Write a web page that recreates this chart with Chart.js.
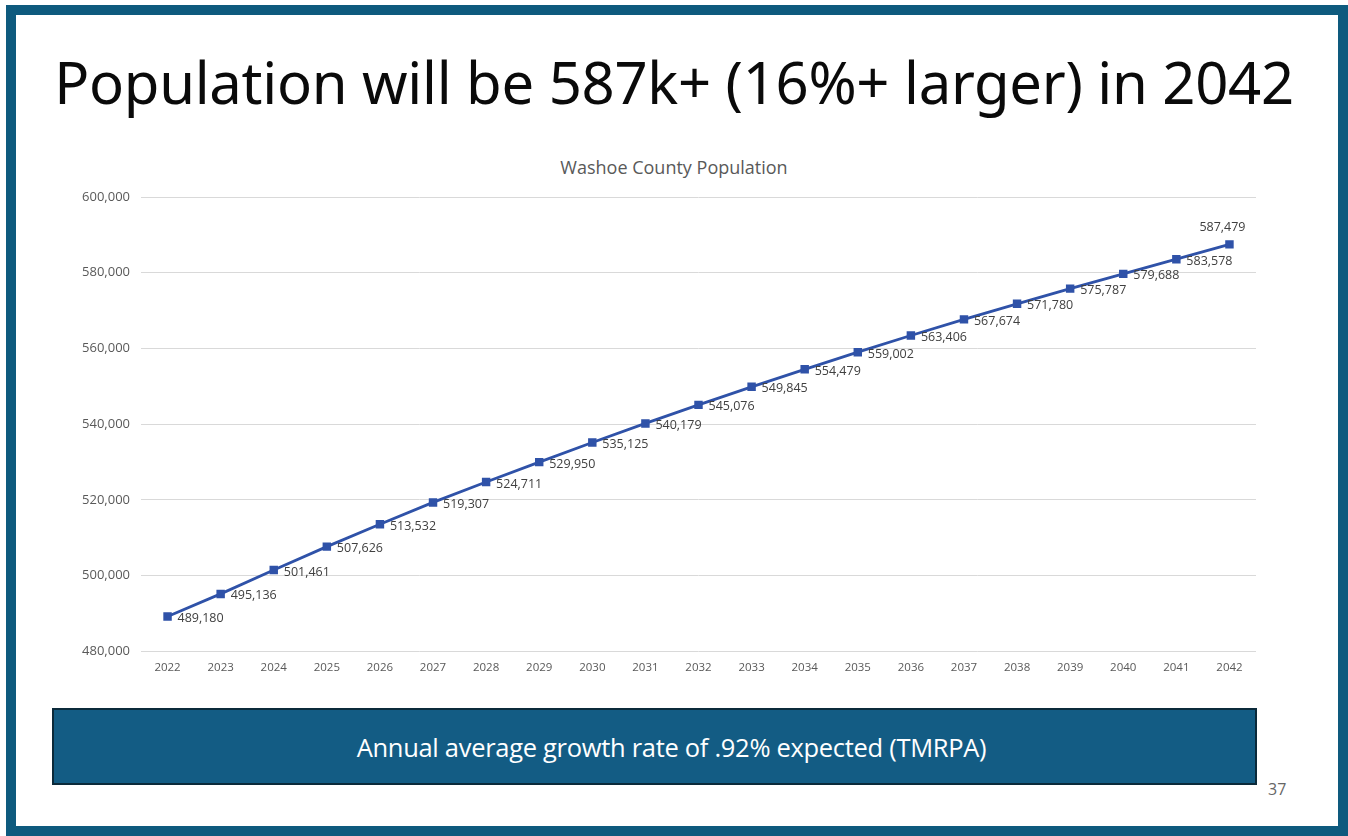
<!DOCTYPE html>
<html>
<head>
<meta charset="utf-8">
<script src="https://cdn.jsdelivr.net/npm/chart.js@4.4.1/dist/chart.umd.min.js"></script>
<style>
  html, body { margin:0; padding:0; background:#fff; }
  #frame { position:absolute; left:6px; top:5px; width:1342px; height:831px; box-sizing:border-box; border:10px solid #0e5a7e; background:#fff; }
  #headline { position:absolute; left:0; width:1348px; top:47px; text-align:center; font-family:"Noto Sans", sans-serif; font-size:58px; line-height:70px; color:#0a0a0a; letter-spacing:-0.3px; }
  #subtitle { position:absolute; left:0; width:1348px; top:156px; text-align:center; font-family:"Open Sans", sans-serif; font-size:18px; line-height:22px; color:#595959; }
  #wrap { position:absolute; left:0; top:150px; width:1348px; height:540px; }
  #note { position:absolute; left:52px; top:708px; width:1205px; height:77px; box-sizing:border-box; padding-left:34px; background:#135c84; border:2px solid #0b2a3a; color:#fff; font-family:"Open Sans",sans-serif; font-size:25.5px; display:flex; align-items:center; justify-content:center; letter-spacing:-0.3px; }
  #page { position:absolute; left:1268px; top:778px; font-family:"Liberation Sans Narrow","Open Sans",sans-serif; font-size:16px; color:#666; }
</style>
</head>
<body>
<div id="frame"></div>
<div id="headline">Population will be 587k+ (16%+ larger) in 2042</div>
<div id="subtitle">Washoe County Population</div>
<div id="wrap"><canvas id="c" width="1348" height="540"></canvas></div>
<div id="note">Annual average growth rate of .92% expected (TMRPA)</div>
<div id="page">37</div>
<script>
const years = ["2022","2023","2024","2025","2026","2027","2028","2029","2030","2031","2032","2033","2034","2035","2036","2037","2038","2039","2040","2041","2042"];
const population = [489180,495136,501461,507626,513532,519307,524711,529950,535125,540179,545076,549845,554479,559002,563406,567674,571780,575787,579688,583578,587479];
const yTicks = [480000,500000,520000,540000,560000,580000,600000];

const labelPlugin = {
  id: 'pointLabels',
  afterDatasetsDraw(chart) {
    const ctx = chart.ctx;
    const meta = chart.getDatasetMeta(0);
    ctx.save();
    ctx.font = '12.5px "Open Sans", sans-serif';
    ctx.fillStyle = '#404040';
    meta.data.forEach((pt, i) => {
      const txt = population[i].toLocaleString('en-US');
      if (i === population.length - 1) {
        ctx.textAlign = 'center';
        ctx.textBaseline = 'middle';
        ctx.fillText(txt, pt.x - 7, pt.y - 17);
      } else {
        ctx.textAlign = 'left';
        ctx.textBaseline = 'middle';
        ctx.fillText(txt, pt.x + 10, pt.y + 2);
      }
    });
    ctx.restore();
  }
};

new Chart(document.getElementById('c'), {
  type: 'line',
  data: {
    labels: years,
    datasets: [{
      data: population,
      borderColor: '#2f52a8',
      backgroundColor: '#2f52a8',
      borderWidth: 2.8,
      pointStyle: 'rect',
      pointRadius: 4,
      pointHoverRadius: 4,
      tension: 0
    }]
  },
  options: {
    responsive: false,
    animation: false,
    layout: { padding: { left: 0, right: 92, top: 47, bottom: 13 } },
    plugins: {
      legend: { display: false },
      tooltip: { enabled: false },
      title: { display: false }
    },
    scales: {
      x: {
        offset: true,
        grid: { display: false },
        border: { display: false },
        ticks: { color: '#595959', font: { family: '"Open Sans", sans-serif', size: 11.5 }, padding: 2, maxRotation: 0, autoSkip: false }
      },
      y: {
        min: 480000,
        max: 600000,
        afterBuildTicks(s) { s.ticks = yTicks.map(v => ({ value: v })); },
        afterFit(s) { s.width = 141; },
        grid: { color: '#d9d9d9', lineWidth: 1, drawTicks: false },
        border: { display: false },
        ticks: {
          color: '#595959',
          font: { family: '"Open Sans", sans-serif', size: 13 },
          padding: 11,
          callback: v => v.toLocaleString('en-US')
        }
      }
    }
  },
  plugins: [labelPlugin]
});
</script>
</body>
</html>
